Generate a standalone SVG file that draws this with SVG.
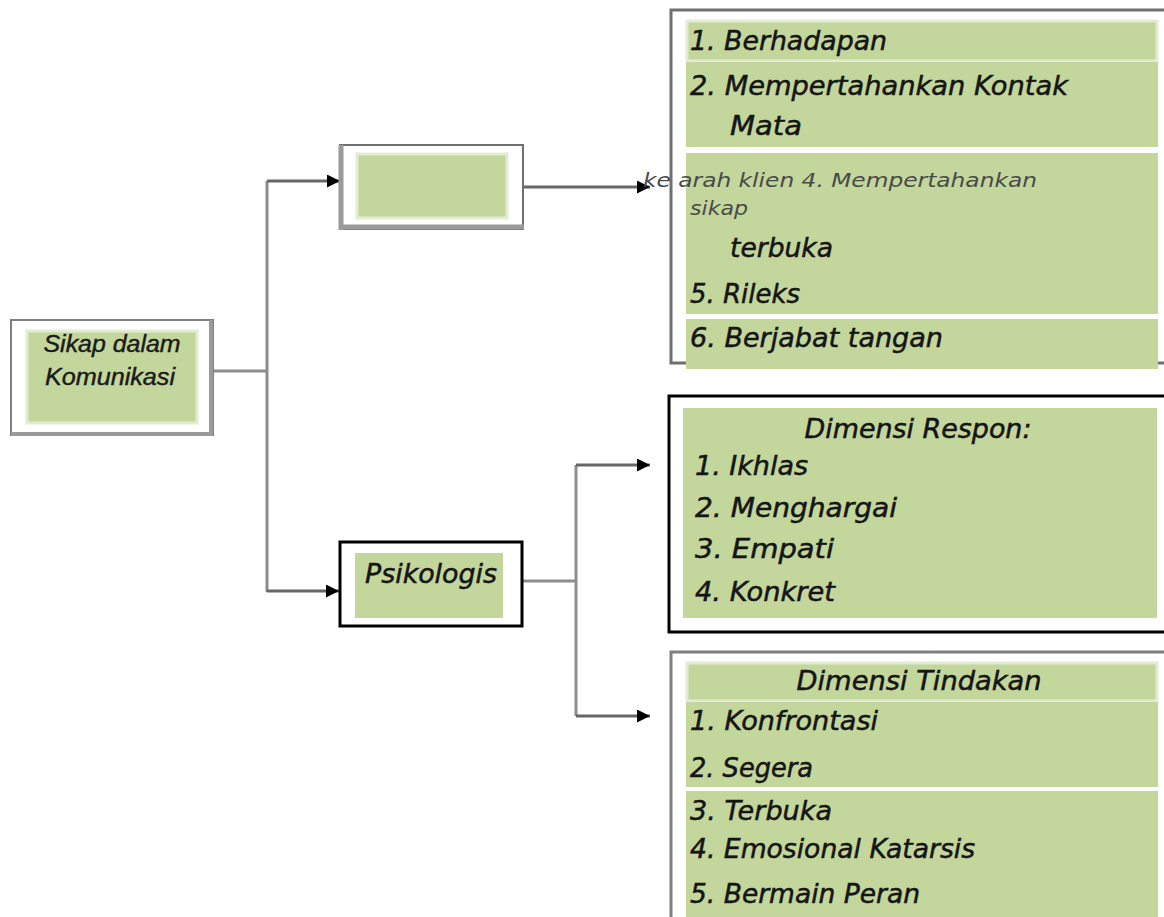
<svg xmlns="http://www.w3.org/2000/svg" width="1164" height="917" viewBox="0 0 1164 917">
<defs>
<marker id="arr" viewBox="0 0 10 10" refX="10" refY="5" markerWidth="13" markerHeight="13" markerUnits="userSpaceOnUse" orient="auto">
<path d="M0,0 L10,5 L0,10 z" fill="#000"/>
</marker>
</defs>
<style>
.g{fill:#C3D69B}
.gl{fill:#C3D69B;stroke:#E3ECD2;stroke-width:3}
.t{font-family:"DejaVu Sans",sans-serif;font-style:italic;font-size:26px;fill:#151515;stroke:#151515;stroke-width:0.5}
.ts{font-family:"DejaVu Sans",sans-serif;font-style:italic;font-size:19px;fill:#4a4a4a}
.tn{font-family:"Liberation Sans",sans-serif;font-style:italic;font-size:23px;fill:#1a1a1a;stroke:#1a1a1a;stroke-width:0.4}
.c{fill:none;stroke:#8c8c8c;stroke-width:3}
.ca{fill:none;stroke:#666;stroke-width:3;marker-end:url(#arr)}
</style>
<rect width="1164" height="917" fill="#fff"/>

<g id="connectors">
<path class="c" d="M213,371 H267"/>
<path class="c" d="M267,181 V592"/>
<path class="ca" d="M267,181 H340"/>
<path class="ca" d="M267,591 H339"/>
<path class="ca" d="M524,187 H650"/>
<path class="c" d="M523,581 H576"/>
<path class="c" d="M576,465 V716"/>
<path class="ca" d="M576,465 H650"/>
<path class="ca" d="M576,716 H650"/>
</g>

<g id="node-sikap">
<rect x="11" y="320" width="202" height="115" fill="#fff" stroke="#7f7f7f" stroke-width="2"/>
<path d="M211,320 V436 M11,434 H213" stroke="#9a9a9a" stroke-width="4" fill="none"/>
<rect class="gl" x="27" y="331" width="170" height="92"/>
<text class="tn" x="112" y="352" text-anchor="middle" textLength="137" lengthAdjust="spacingAndGlyphs">Sikap dalam</text>
<text class="tn" x="110" y="385" text-anchor="middle" textLength="130" lengthAdjust="spacingAndGlyphs">Komunikasi</text>
</g>

<g id="node-top">
<rect x="340" y="145" width="183" height="84" fill="#fff" stroke="#6f6f6f" stroke-width="2"/>
<path d="M341,145 V230 M340,227 H524" stroke="#9a9a9a" stroke-width="5" fill="none"/>
<rect class="gl" x="357" y="154" width="150" height="64"/>
</g>

<g id="node-psikologis">
<rect x="340" y="542" width="182" height="84" fill="#fff" stroke="#000" stroke-width="3"/>
<rect class="g" x="355" y="553" width="148" height="65"/>
<text class="t" x="365" y="583" textLength="132" lengthAdjust="spacingAndGlyphs" font-size="24">Psikologis</text>
</g>

<g id="node-list-top">
<rect x="671" y="10" width="520" height="353" fill="#fff" stroke="#6f6f6f" stroke-width="3"/>
<rect class="gl" x="687" y="21" width="470" height="40"/>
<rect class="g" x="686" y="62" width="472" height="85"/>
<rect class="g" x="686" y="153" width="472" height="161"/>
<rect class="g" x="686" y="319" width="472" height="50"/>
<text class="t" x="690" y="50" textLength="197" lengthAdjust="spacingAndGlyphs">1. Berhadapan</text>
<text class="t" x="690" y="95" textLength="378" lengthAdjust="spacingAndGlyphs">2. Mempertahankan Kontak</text>
<text class="t" x="730" y="135" textLength="72" lengthAdjust="spacingAndGlyphs">Mata</text>
<text class="ts" x="643" y="187" textLength="394" lengthAdjust="spacingAndGlyphs">ke arah klien 4. Mempertahankan</text>
<text class="ts" x="690" y="215" textLength="58" lengthAdjust="spacingAndGlyphs">sikap</text>
<text class="t" x="730" y="257" textLength="103" lengthAdjust="spacingAndGlyphs">terbuka</text>
<text class="t" x="690" y="303" textLength="110" lengthAdjust="spacingAndGlyphs">5. Rileks</text>
<text class="t" x="690" y="347" textLength="253" lengthAdjust="spacingAndGlyphs">6. Berjabat tangan</text>
</g>

<g id="node-respon">
<rect x="669" y="396" width="520" height="236" fill="#fff" stroke="#000" stroke-width="3"/>
<rect class="g" x="683" y="408" width="474" height="210"/>
<text class="t" x="918" y="438" text-anchor="middle" textLength="227" lengthAdjust="spacingAndGlyphs">Dimensi Respon:</text>
<text class="t" x="695" y="475" textLength="113" lengthAdjust="spacingAndGlyphs">1. Ikhlas</text>
<text class="t" x="695" y="517" textLength="202" lengthAdjust="spacingAndGlyphs">2. Menghargai</text>
<text class="t" x="695" y="558" textLength="139" lengthAdjust="spacingAndGlyphs">3. Empati</text>
<text class="t" x="695" y="601" textLength="140" lengthAdjust="spacingAndGlyphs">4. Konkret</text>
</g>

<g id="node-tindakan">
<rect x="671" y="652" width="520" height="300" fill="#fff" stroke="#7f7f7f" stroke-width="3"/>
<rect class="gl" x="687" y="663" width="470" height="38"/>
<rect class="g" x="686" y="702" width="472" height="85"/>
<rect class="g" x="686" y="791" width="472" height="130"/>
<text class="t" x="919" y="690" text-anchor="middle" textLength="245" lengthAdjust="spacingAndGlyphs">Dimensi Tindakan</text>
<text class="t" x="690" y="730" textLength="188" lengthAdjust="spacingAndGlyphs">1. Konfrontasi</text>
<text class="t" x="690" y="777" textLength="123" lengthAdjust="spacingAndGlyphs">2. Segera</text>
<text class="t" x="690" y="820" textLength="142" lengthAdjust="spacingAndGlyphs">3. Terbuka</text>
<text class="t" x="690" y="858" textLength="285" lengthAdjust="spacingAndGlyphs">4. Emosional Katarsis</text>
<text class="t" x="690" y="903" textLength="230" lengthAdjust="spacingAndGlyphs">5. Bermain Peran</text>
</g>
</svg>
